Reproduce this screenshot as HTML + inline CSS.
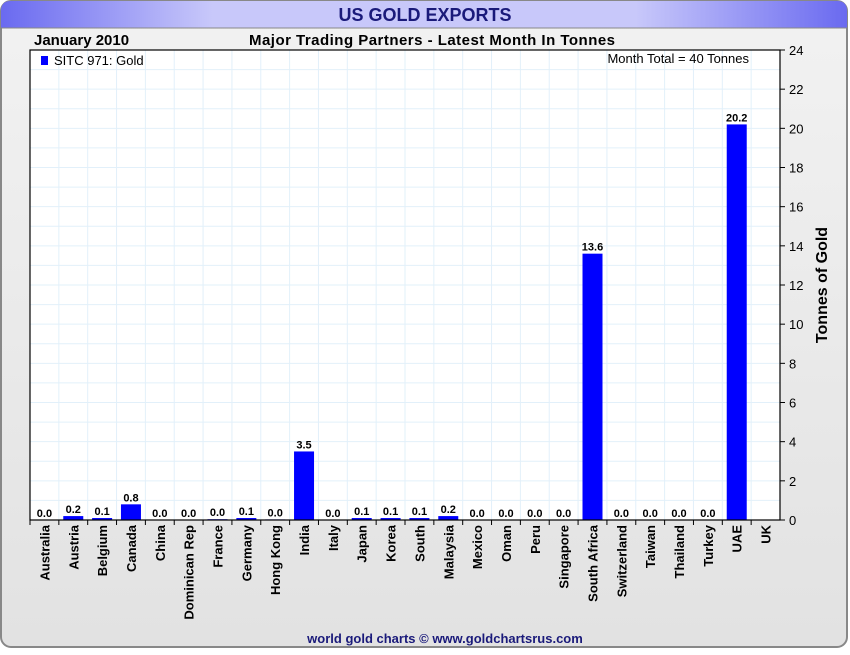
<!DOCTYPE html>
<html><head><meta charset="utf-8"><style>
body{margin:0;width:850px;height:650px;overflow:hidden;background:#fff;font-family:"Liberation Sans",sans-serif}
</style></head><body>
<svg width="850" height="650" xmlns="http://www.w3.org/2000/svg">
<defs>
<linearGradient id="bg" x1="0" y1="0" x2="0" y2="1"><stop offset="0" stop-color="#f2f2f2"/><stop offset="1" stop-color="#e2e2e2"/></linearGradient>
<linearGradient id="tb" x1="0" y1="0" x2="1" y2="0"><stop offset="0" stop-color="#6a6af0"/><stop offset="0.25" stop-color="#c8c8fa"/><stop offset="0.75" stop-color="#c8c8fa"/><stop offset="1" stop-color="#6a6af0"/></linearGradient>
</defs>
<rect x="1" y="1" width="846" height="646" rx="10" fill="url(#bg)" stroke="#888" stroke-width="2"/>
<path d="M1,28 L1,11 Q1,1 11,1 L837,1 Q847,1 847,11 L847,28 Z" fill="url(#tb)"/>
<line x1="1" y1="28" x2="847" y2="28" stroke="#888"/>
<text x="425" y="21" text-anchor="middle" font-size="18" font-weight="bold" fill="#1a1a7a">US GOLD EXPORTS</text>
<text x="34" y="45" font-size="15" font-weight="bold" fill="#000">January 2010</text>
<text x="432" y="45" text-anchor="middle" font-size="15" font-weight="bold" fill="#000" textLength="366">Major Trading Partners - Latest Month In Tonnes</text>
<rect x="30" y="50" width="750" height="470" fill="#fff"/>
<g id="grid"></g>
<g id="bars"></g>
<rect x="30" y="50" width="750" height="470" fill="none" stroke="#000" stroke-width="1.2"/>
<g id="yaxis"></g>
<g id="xaxis"></g>
<rect x="41" y="56" width="7" height="9" fill="#0000ff"/>
<text x="54" y="65" font-size="13" fill="#000">SITC 971: Gold</text>
<text x="749" y="63" text-anchor="end" font-size="13" fill="#000">Month Total = 40 Tonnes</text>
<text transform="translate(827,285) rotate(-90)" text-anchor="middle" font-size="16" font-weight="bold" fill="#000">Tonnes of Gold</text>
<text x="445" y="643" text-anchor="middle" font-size="13" font-weight="bold" fill="#1a1a7a">world gold charts © www.goldchartsrus.com</text>
</svg>
<script>
const categories=["Australia","Austria","Belgium","Canada","China","Dominican Rep","France","Germany","Hong Kong","India","Italy","Japan","Korea","South","Malaysia","Mexico","Oman","Peru","Singapore","South Africa","Switzerland","Taiwan","Thailand","Turkey","UAE","UK"];
const values=[0,0.2,0.1,0.8,0,0,0.04,0.1,0.03,3.5,0,0.1,0.1,0.1,0.2,0,0,0,0,13.6,0,0,0,0,20.2,null];
const yTicks=[0,2,4,6,8,10,12,14,16,18,20,22,24];
const NS="http://www.w3.org/2000/svg";
const L=30,R=780,T=50,B=520,YMAX=24;
const bw=(R-L)/categories.length;
const y=v=>B-v/YMAX*(B-T);
const xc=i=>L+bw*(i+0.5);
function mk(t,a){const e=document.createElementNS(NS,t);for(const k in a)e.setAttribute(k,a[k]);return e;}
const grid=document.getElementById('grid'),bars=document.getElementById('bars'),ya=document.getElementById('yaxis'),xa=document.getElementById('xaxis');
for(let v=1;v<YMAX;v++){const l=mk('line',{x1:L,x2:R,y1:y(v),y2:y(v),stroke:'#e2f0fa','stroke-width':1});

grid.appendChild(l);}
for(let i=1;i<categories.length;i++){const l=mk('line',{x1:L+bw*i,x2:L+bw*i,y1:T,y2:B,stroke:'#e2f0fa','stroke-width':1});

grid.appendChild(l);}
yTicks.forEach(v=>{const l=mk('line',{x1:R,x2:R+5,y1:y(v),y2:y(v),stroke:'#000'});

ya.appendChild(l);
const t=mk('text',{x:R+9,y:y(v)+5,'font-size':13,fill:'#000'});t.textContent=v;

ya.appendChild(t);});
categories.forEach((c,i)=>{const v=values[i];const cx=xc(i);
if(v!==null){const r=mk('rect',{x:cx-10,y:y(v),width:20,height:B-y(v),fill:'#0000ff'});

bars.appendChild(r);
const t=mk('text',{x:cx,y:y(v)-3,'text-anchor':'middle','font-size':11,'font-weight':'bold',fill:'#000'});t.textContent=v.toFixed(1);

bars.appendChild(t);}
const tk=mk('line',{x1:L+bw*i,x2:L+bw*i,y1:B,y2:B+5,stroke:'#000'});

xa.appendChild(tk);
const t=mk('text',{transform:`translate(${cx+5},${B+5}) rotate(-90)`,'text-anchor':'end','font-size':13,'font-weight':'bold',fill:'#000'});t.textContent=c;

xa.appendChild(t);});
</script>
</body></html>
